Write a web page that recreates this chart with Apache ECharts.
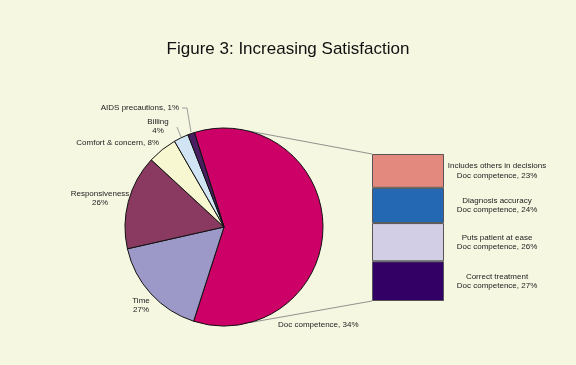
<!DOCTYPE html>
<html><head><meta charset="utf-8">
<script src="https://cdn.jsdelivr.net/npm/echarts@6/dist/echarts.min.js"></script>
<style>html,body{margin:0;padding:0;background:#f5f7e1;}#c{width:576px;height:365px;}</style>
</head><body><div id="c"></div>
<script>
// ---- data ----
const pieNames = ['Doc competence', 'Time', 'Responsiveness', 'Comfort & concern', 'Billing', 'AIDS precautions'];
const pieValues = [59.8, 16.5, 15.4, 4.8, 2.4, 1.1];           // slice sizes as drawn
const pieLabels = ['Doc competence, 34%', 'Time\n27%', 'Responsiveness\n26%', 'Comfort & concern, 8%', 'Billing\n4%', 'AIDS precautions, 1%'];
const barNames = ['Correct treatment', 'Puts patient at ease', 'Diagnosis accuracy', 'Includes others in decisions'];
const barValues = [27, 26, 24, 23];
const barLabels = ['Doc competence, 27%', 'Doc competence, 26%', 'Doc competence, 24%', 'Doc competence, 23%'];

// ---- styles / layout ----
const pieColors = ['#cc0066', '#9c98c8', '#8a3a60', '#f7f7d2', '#d0e4f4', '#4a1f62'];
const barColors = ['#330066', '#d2cee6', '#2467b2', '#e3897d'];
const labelPos = [
  [278, 325, 'left'],
  [141, 305.5, 'center'],
  [100, 198.5, 'center'],
  [159, 143, 'right'],
  [158, 126.5, 'center'],
  [179, 108, 'right']
];
const labelLines = {
  4: [[177, 127], [181, 137], [181, 137]],
  5: [[182, 108], [187, 108], [191, 132]]
};
const cx = 224, cy = 227, R = 99;
const grid = {left: 372, top: 154, width: 72, height: 147};
const font = 'Liberation Sans';
const fs = 8;

function edge(degFromTopCW) {
  const a = degFromTopCW * Math.PI / 180;
  return [cx + R * Math.sin(a), cy - R * Math.cos(a)];
}
const pTop = edge(13.4), pBot = edge(165);

const chart = echarts.init(document.getElementById('c'), null, {renderer: 'canvas'});
chart.setOption({
  backgroundColor: '#f5f7e1',
  animation: false,
  title: {
    text: 'Figure 3: Increasing Satisfaction', left: 'center', top: 36,
    textStyle: {fontFamily: font, fontSize: 17, fontWeight: 'normal', color: '#111'}
  },
  grid: Object.assign({}, grid),
  xAxis: {type: 'category', data: ['Doc competence'], show: false},
  yAxis: {type: 'value', min: 0, max: 100, show: false},
  graphic: [
    {type: 'line', shape: {x1: pTop[0], y1: pTop[1], x2: grid.left, y2: grid.top}, style: {stroke: '#777', lineWidth: 0.8}, z: 0},
    {type: 'line', shape: {x1: pBot[0], y1: pBot[1], x2: grid.left, y2: grid.top + grid.height}, style: {stroke: '#777', lineWidth: 0.8}, z: 0}
  ],
  series: [
    {
      type: 'pie', center: [cx, cy], radius: R, startAngle: 107.4, clockwise: true,
      data: pieNames.map((n, i) => ({name: n, value: pieValues[i], itemStyle: {color: pieColors[i]}})),
      itemStyle: {borderColor: '#111', borderWidth: 1},
      label: {
        show: true, formatter: p => pieLabels[p.dataIndex],
        fontFamily: font, fontSize: fs, color: '#222', lineHeight: 9.5
      },
      labelLine: {show: true, length: 5, length2: 5, lineStyle: {color: '#888', width: 0.8}},
      labelLayout: function (params) {
        const i = params.dataIndex;
        const p = labelPos[i];
        const r = {x: p[0], y: p[1], align: p[2], verticalAlign: 'middle'};
        r.labelLinePoints = labelLines[i] || [[-100, -100], [-100, -100], [-100, -100]];
        return r;
      },
      emphasis: {disabled: true}
    }
  ].concat(barValues.map((v, i) => ({
    type: 'bar', stack: 'doc', name: barNames[i], barWidth: '100%',
    data: [v],
    itemStyle: {color: barColors[i], borderColor: '#555', borderWidth: 1},
    label: {
      show: true, position: 'right', distance: 53, align: 'center',
      formatter: barNames[i] + '\n' + barLabels[i],
      fontFamily: font, fontSize: fs, lineHeight: 9.5, color: '#222'
    },
    emphasis: {disabled: true}
  })))
});
</script>
</body></html>
